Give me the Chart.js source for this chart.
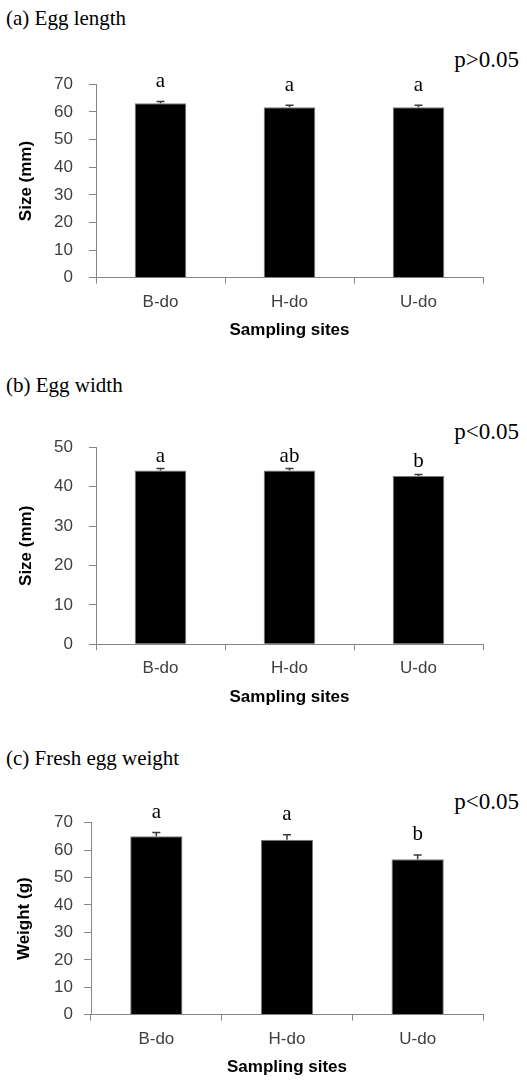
<!DOCTYPE html>
<html>
<head>
<meta charset="utf-8">
<script src="https://cdn.jsdelivr.net/npm/chart.js@4.4.0/dist/chart.umd.min.js"></script>
<style>
  body { margin: 0; background: #fff; }
  #page { position: relative; width: 527px; height: 1081px; overflow: hidden; }
  .panel-title, .p-value {
    position: absolute;
    font-family: "Liberation Serif", "Times New Roman", serif;
    font-size: 21px;
    line-height: 24px;
    color: #000;
    white-space: nowrap;
  }
  .panel-title { left: 6px; }
  .p-value { right: 8px; font-size: 23px; }
  canvas { position: absolute; left: 0; }
</style>
</head>
<body>
<div id="page">
  <div class="panel-title" style="top:6px">(a) Egg length</div>
  <div class="p-value" style="top:48px">p&gt;0.05</div>
  <canvas id="length-chart"></canvas>

  <div class="panel-title" style="top:373px">(b) Egg width</div>
  <div class="p-value" style="top:420px">p&lt;0.05</div>
  <canvas id="width-chart"></canvas>

  <div class="panel-title" style="top:746px">(c) Fresh egg weight</div>
  <div class="p-value" style="top:790px">p&lt;0.05</div>
  <canvas id="weight-chart"></canvas>
</div>
<script>
const sites = ["B-do", "H-do", "U-do"];

// (a) egg length, mm
const lengthMean = [63.1, 61.7, 61.7];
const lengthErr = [0.7, 0.7, 0.7];
const lengthLetters = ["a", "a", "a"];

// (b) egg width, mm
const widthMean = [44.1, 44.1, 42.7];
const widthErr = [0.5, 0.5, 0.4];
const widthLetters = ["a", "ab", "b"];

// (c) fresh egg weight, g
const weightMean = [65.1, 63.8, 56.7];
const weightErr = [1.3, 1.8, 1.5];
const weightLetters = ["a", "a", "b"];

const sansFont = "'Liberation Sans', Arial, sans-serif";
const serifFont = "'Liberation Serif', 'Times New Roman', serif";
const axisGray = "#868686";

// error bars + significance letters
const errorBarPlugin = {
  id: "errorBars",
  afterDatasetsDraw(chart) {
    const ds = chart.data.datasets[0];
    const meta = chart.getDatasetMeta(0);
    const yScale = chart.scales.y;
    const ctx = chart.ctx;
    ctx.save();
    meta.data.forEach((bar, i) => {
      const top = yScale.getPixelForValue(ds.data[i] + ds.errors[i]);
      ctx.strokeStyle = "#3a3a3a";
      ctx.lineWidth = 1.5;
      ctx.beginPath();
      ctx.moveTo(bar.x, bar.y);
      ctx.lineTo(bar.x, top);
      ctx.moveTo(bar.x - 4, top);
      ctx.lineTo(bar.x + 4, top);
      ctx.stroke();

      ctx.fillStyle = "#000";
      ctx.font = "21px " + serifFont;
      ctx.textAlign = "center";
      ctx.textBaseline = "alphabetic";
      ctx.fillText(ds.letters[i], bar.x, top - ds.letterGap);
    });
    ctx.restore();
  },
};

function makePanel(id, box, values, errors, letters, yMax, yTitle) {
  const canvas = document.getElementById(id);
  const h = Math.round(box.plotBottom - box.canvasTop + 80);
  canvas.width = 527;
  canvas.height = h;
  canvas.style.top = box.canvasTop + "px";
  canvas.style.width = "527px";
  canvas.style.height = h + "px";

  new Chart(canvas, {
    type: "bar",
    data: {
      labels: sites,
      datasets: [
        {
          data: values,
          errors: errors,
          letters: letters,
          letterGap: box.letterGap,
          backgroundColor: "#000",
          borderColor: "#7a7a7a",
          borderWidth: 1,
          barPercentage: 0.4,
          categoryPercentage: 1,
        },
      ],
    },
    options: {
      responsive: false,
      animation: false,
      layout: {
        padding: {
          top: box.plotTop - box.canvasTop,
          bottom: h - (box.plotBottom - box.canvasTop) - 70,
          left: 0,
          right: 527 - 483,
        },
      },
      plugins: {
        legend: { display: false },
        tooltip: { enabled: false },
      },
      scales: {
        x: {
          grid: { drawOnChartArea: false, tickLength: 6, color: axisGray, offset: true },
          border: { color: axisGray },
          ticks: { color: "#404040", font: { family: sansFont, size: 17 }, padding: 8 },
          title: {
            display: true,
            text: "Sampling sites",
            color: "#000",
            font: { family: sansFont, size: 17, weight: "bold" },
            padding: { top: 0, bottom: 7 },
          },
          afterFit: (s) => {
            s.height = 70;
          },
        },
        y: {
          min: 0,
          max: yMax,
          grid: { drawOnChartArea: false, tickLength: 7, color: axisGray },
          border: { color: axisGray },
          ticks: {
            stepSize: 10,
            color: "#404040",
            font: { family: sansFont, size: 17 },
            padding: box.tickPad,
          },
          title: {
            display: true,
            text: yTitle,
            color: "#000",
            font: { family: sansFont, size: 17, weight: "bold" },
            padding: { top: box.titlePad, bottom: 0 },
          },
          afterFit: (s) => {
            s.width = box.plotLeft;
          },
        },
      },
    },
    plugins: [errorBarPlugin],
  });
}

document.addEventListener("DOMContentLoaded", () => {
  makePanel(
    "length-chart",
    { canvasTop: 44, plotTop: 84.3, plotBottom: 277.7, plotLeft: 96, tickPad: 16, titlePad: 16, letterGap: 14 },
    lengthMean, lengthErr, lengthLetters, 70, "Size (mm)"
  );
  makePanel(
    "width-chart",
    { canvasTop: 407, plotTop: 447.3, plotBottom: 644.3, plotLeft: 96, tickPad: 16, titlePad: 16, letterGap: 7 },
    widthMean, widthErr, widthLetters, 50, "Size (mm)"
  );
  makePanel(
    "weight-chart",
    { canvasTop: 782, plotTop: 822.7, plotBottom: 1014.7, plotLeft: 91, tickPad: 11, titlePad: 14, letterGap: 15 },
    weightMean, weightErr, weightLetters, 70, "Weight (g)"
  );
});
</script>
</body>
</html>
